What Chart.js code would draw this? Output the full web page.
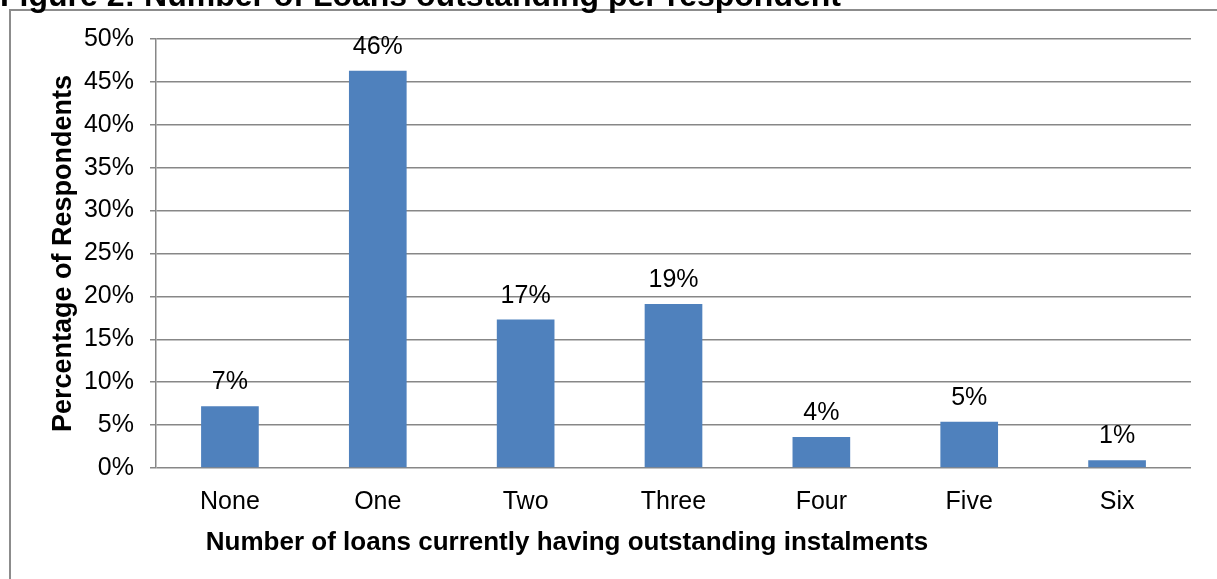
<!DOCTYPE html>
<html>
<head>
<meta charset="utf-8">
<script src="https://cdn.jsdelivr.net/npm/chart.js@4.4.1/dist/chart.umd.min.js"></script>
<style>
  body { margin: 0; background: #fff; overflow: hidden; }
  #wrap { position: relative; width: 1217px; height: 579px; }
  #frame { position: absolute; left: 9px; top: 9px; width: 1300px; height: 700px; border: 2px solid #8c8c8c; }
  canvas { position: absolute; left: 0; top: 0; }
</style>
</head>
<body>
<div id="wrap">
  <div id="frame"></div>
  <canvas id="loansChart" width="1217" height="579"></canvas>
</div>
<script>
// Number of loans outstanding per respondent
var categories = ["None", "One", "Two", "Three", "Four", "Five", "Six"];
var percentValues = [7.2, 46.3, 17.3, 19.1, 3.6, 5.4, 0.9];
var yTicks = [0, 5, 10, 15, 20, 25, 30, 35, 40, 45, 50];

var gridColor = "#878787";
var fontFamily = "'Liberation Sans', Arial, sans-serif";

// value labels, x axis title and the (clipped) figure title
var extraText = {
  id: "extraText",
  afterDatasetsDraw: function (chart) {
    var ctx = chart.ctx;
    var meta = chart.getDatasetMeta(0);
    ctx.save();
    ctx.fillStyle = "#000";
    ctx.textAlign = "center";
    ctx.textBaseline = "alphabetic";
    ctx.font = "25px " + fontFamily;
    meta.data.forEach(function (bar, i) {
      ctx.fillText(Math.round(percentValues[i]) + "%", bar.x, bar.y - 17);
    });

    ctx.font = "bold 26px " + fontFamily;
    ctx.fillText("Number of loans currently having outstanding instalments", 567, 550);

    ctx.textAlign = "left";
    ctx.font = "bold 32px " + fontFamily;
    ctx.fillText("Figure 2: Number of Loans outstanding per respondent", 0, 6);
    ctx.restore();
  }
};

new Chart("loansChart", {
  type: "bar",
  data: {
    labels: categories,
    datasets: [{
      data: percentValues,
      backgroundColor: "#4F81BD",
      borderWidth: 0,
      barPercentage: 0.39,
      categoryPercentage: 1.0
    }]
  },
  options: {
    responsive: false,
    animation: false,
    layout: { padding: { left: 40, right: 26, top: 39, bottom: 0 } },
    plugins: {
      legend: { display: false },
      tooltip: { enabled: false }
    },
    scales: {
      x: {
        grid: { display: false },
        border: { display: false },
        ticks: {
          color: "#000",
          padding: 11,
          font: { family: fontFamily, size: 25 }
        },
        afterFit: function (scale) { scale.height = 111; }
      },
      y: {
        min: 0,
        max: 50,
        afterBuildTicks: function (scale) {
          scale.ticks = yTicks.map(function (v) { return { value: v }; });
        },
        grid: { color: gridColor, lineWidth: 1.5, tickLength: 6 },
        border: { display: true, color: gridColor, width: 1.5 },
        ticks: {
          color: "#000",
          padding: 16,
          font: { family: fontFamily, size: 25 },
          callback: function (v) { return v + "%"; }
        },
        title: {
          display: true,
          text: "Percentage of Respondents",
          color: "#000",
          padding: { top: 7, bottom: 0 },
          font: { family: fontFamily, size: 27, weight: "bold" }
        },
        afterFit: function (scale) { scale.width = 116; }
      }
    }
  },
  plugins: [extraText]
});
</script>
</body>
</html>
